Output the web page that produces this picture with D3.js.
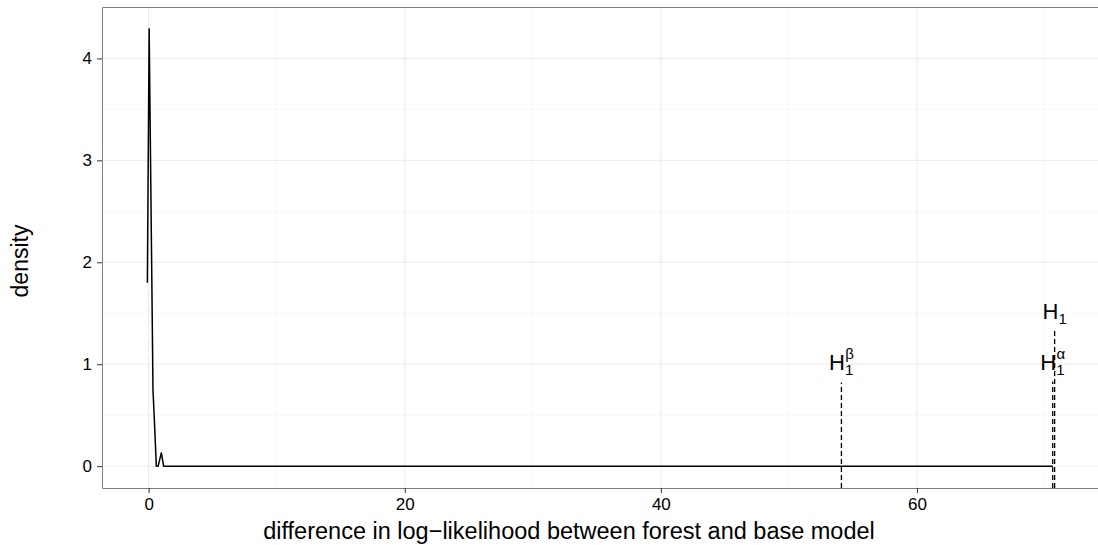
<!DOCTYPE html>
<html>
<head>
<meta charset="utf-8">
<script src="https://cdn.jsdelivr.net/npm/d3@7"></script>
<style>
  body { margin: 0; background: #fff; overflow: hidden; }
  text { font-family: "Liberation Sans", Arial, sans-serif; }
</style>
</head>
<body>
<div id="chart"></div>
<script>
// density curve of the log-likelihood differences
var densX = [-0.10, 0.04, 0.34, 0.43, 0.60, 0.74, 0.99, 1.17, 70.6];
var densY = [1.80, 4.29, 0.745, 0.50, 0.0, 0.0, 0.13, 0.0, 0.0];

// hypothesis markers
var hypBase = ["H", "H", "H"];
var hypSup = ["\u03b2", "\u03b1", ""];
var hypX = [54.1, 70.6, 70.75];
var hypTop = [0.82, 0.83, 1.33];
var hypLabelY = [1.0, 1.0, 1.5];

var xTicks = [0, 20, 40, 60];
var xMinor = [10, 30, 50, 70];
var yTicks = [0, 1, 2, 3, 4];
var yMinor = [0.5, 1.5, 2.5, 3.5];

var width = 1098, height = 545;
var margin = { top: 7, right: -2, bottom: 57, left: 102 };

var svg = d3.select("#chart").append("svg")
    .attr("width", width)
    .attr("height", height)
    .style("display", "block");

// ggplot-like 5% expansion
var allX = densX.concat(hypX);
var xMin = d3.min(allX), xMax = d3.max(allX);
var xPad = (xMax - xMin) * 0.05;
var yMin = d3.min(densY), yMax = d3.max(densY);
var yPad = (yMax - yMin) * 0.05;

var x = d3.scaleLinear()
    .domain([xMin - xPad, xMax + xPad])
    .range([margin.left, width - margin.right]);
var y = d3.scaleLinear()
    .domain([yMin - yPad, yMax + yPad])
    .range([height - margin.bottom, margin.top]);

var pTop = margin.top, pBottom = height - margin.bottom;
var pLeft = margin.left, pRight = width - margin.right;

// grid
var grid = svg.append("g");
grid.selectAll(".xminor").data(xMinor).enter().append("line")
    .attr("x1", d => x(d)).attr("x2", d => x(d))
    .attr("y1", pTop).attr("y2", pBottom)
    .attr("stroke", "#f7f7f7").attr("stroke-width", 1);
grid.selectAll(".yminor").data(yMinor).enter().append("line")
    .attr("x1", pLeft).attr("x2", pRight)
    .attr("y1", d => y(d)).attr("y2", d => y(d))
    .attr("stroke", "#f7f7f7").attr("stroke-width", 1);
grid.selectAll(".xmajor").data(xTicks).enter().append("line")
    .attr("x1", d => x(d)).attr("x2", d => x(d))
    .attr("y1", pTop).attr("y2", pBottom)
    .attr("stroke", "#ebebeb").attr("stroke-width", 1);
grid.selectAll(".ymajor").data(yTicks).enter().append("line")
    .attr("x1", pLeft).attr("x2", pRight)
    .attr("y1", d => y(d)).attr("y2", d => y(d))
    .attr("stroke", "#ebebeb").attr("stroke-width", 1);

// density line
var line = d3.line()
    .x((d, i) => x(densX[i]))
    .y(d => y(d));
svg.append("path")
    .datum(densY)
    .attr("d", line)
    .attr("fill", "none")
    .attr("stroke", "#000")
    .attr("stroke-width", 1.5)
    .attr("stroke-linejoin", "round");

// dashed hypothesis lines
svg.selectAll(".hyp").data(hypX).enter().append("line")
    .attr("x1", d => x(d)).attr("x2", d => x(d))
    .attr("y1", pBottom).attr("y2", (d, i) => y(hypTop[i]))
    .attr("stroke", "#000")
    .attr("stroke-width", 1.3)
    .attr("stroke-dasharray", "5,3");

// labels H_1^sup
hypX.forEach(function(hx, i) {
    var t = svg.append("text")
        .attr("x", x(hx))
        .attr("y", y(hypLabelY[i]) + 6)
        .attr("text-anchor", "middle")
        .attr("font-size", 22)
        .attr("fill", "#000");
    t.append("tspan").text(hypBase[i]);
    t.append("tspan").attr("font-size", 15).attr("dy", 5).text("1");
    if (hypSup[i]) {
        t.append("tspan").attr("font-size", 15).attr("dx", -8).attr("dy", -16).text(hypSup[i]);
    }
});

// panel border (top, left, bottom; right side falls at the image edge)
svg.append("path")
    .attr("d", "M" + pRight + "," + (pTop + 0.5) + "H" + (pLeft + 0.5) +
        "V" + (pBottom + 0.5) + "H" + pRight)
    .attr("fill", "none")
    .attr("stroke", "#7f7f7f").attr("stroke-width", 1);

// axes
var xAxis = svg.append("g")
    .attr("transform", "translate(0," + pBottom + ")")
    .call(d3.axisBottom(x).tickValues(xTicks).tickSize(5).tickPadding(5));
var yAxis = svg.append("g")
    .attr("transform", "translate(" + pLeft + ",0)")
    .call(d3.axisLeft(y).tickValues(yTicks).tickFormat(d3.format("d")).tickSize(5).tickPadding(5));
[xAxis, yAxis].forEach(function(a) {
    a.select(".domain").remove();
    a.selectAll(".tick line").attr("stroke", "#333");
    a.selectAll(".tick text")
        .attr("font-size", 17)
        .attr("font-family", "Liberation Sans, Arial, sans-serif")
        .attr("fill", "#000");
});

// axis titles
svg.append("text")
    .attr("x", 569).attr("y", 539)
    .attr("text-anchor", "middle")
    .attr("font-size", 23.5)
    .text("difference in log\u2212likelihood between forest and base model");
svg.append("text")
    .attr("transform", "translate(28,261) rotate(-90)")
    .attr("text-anchor", "middle")
    .attr("font-size", 23)
    .text("density");
</script>
</body>
</html>
